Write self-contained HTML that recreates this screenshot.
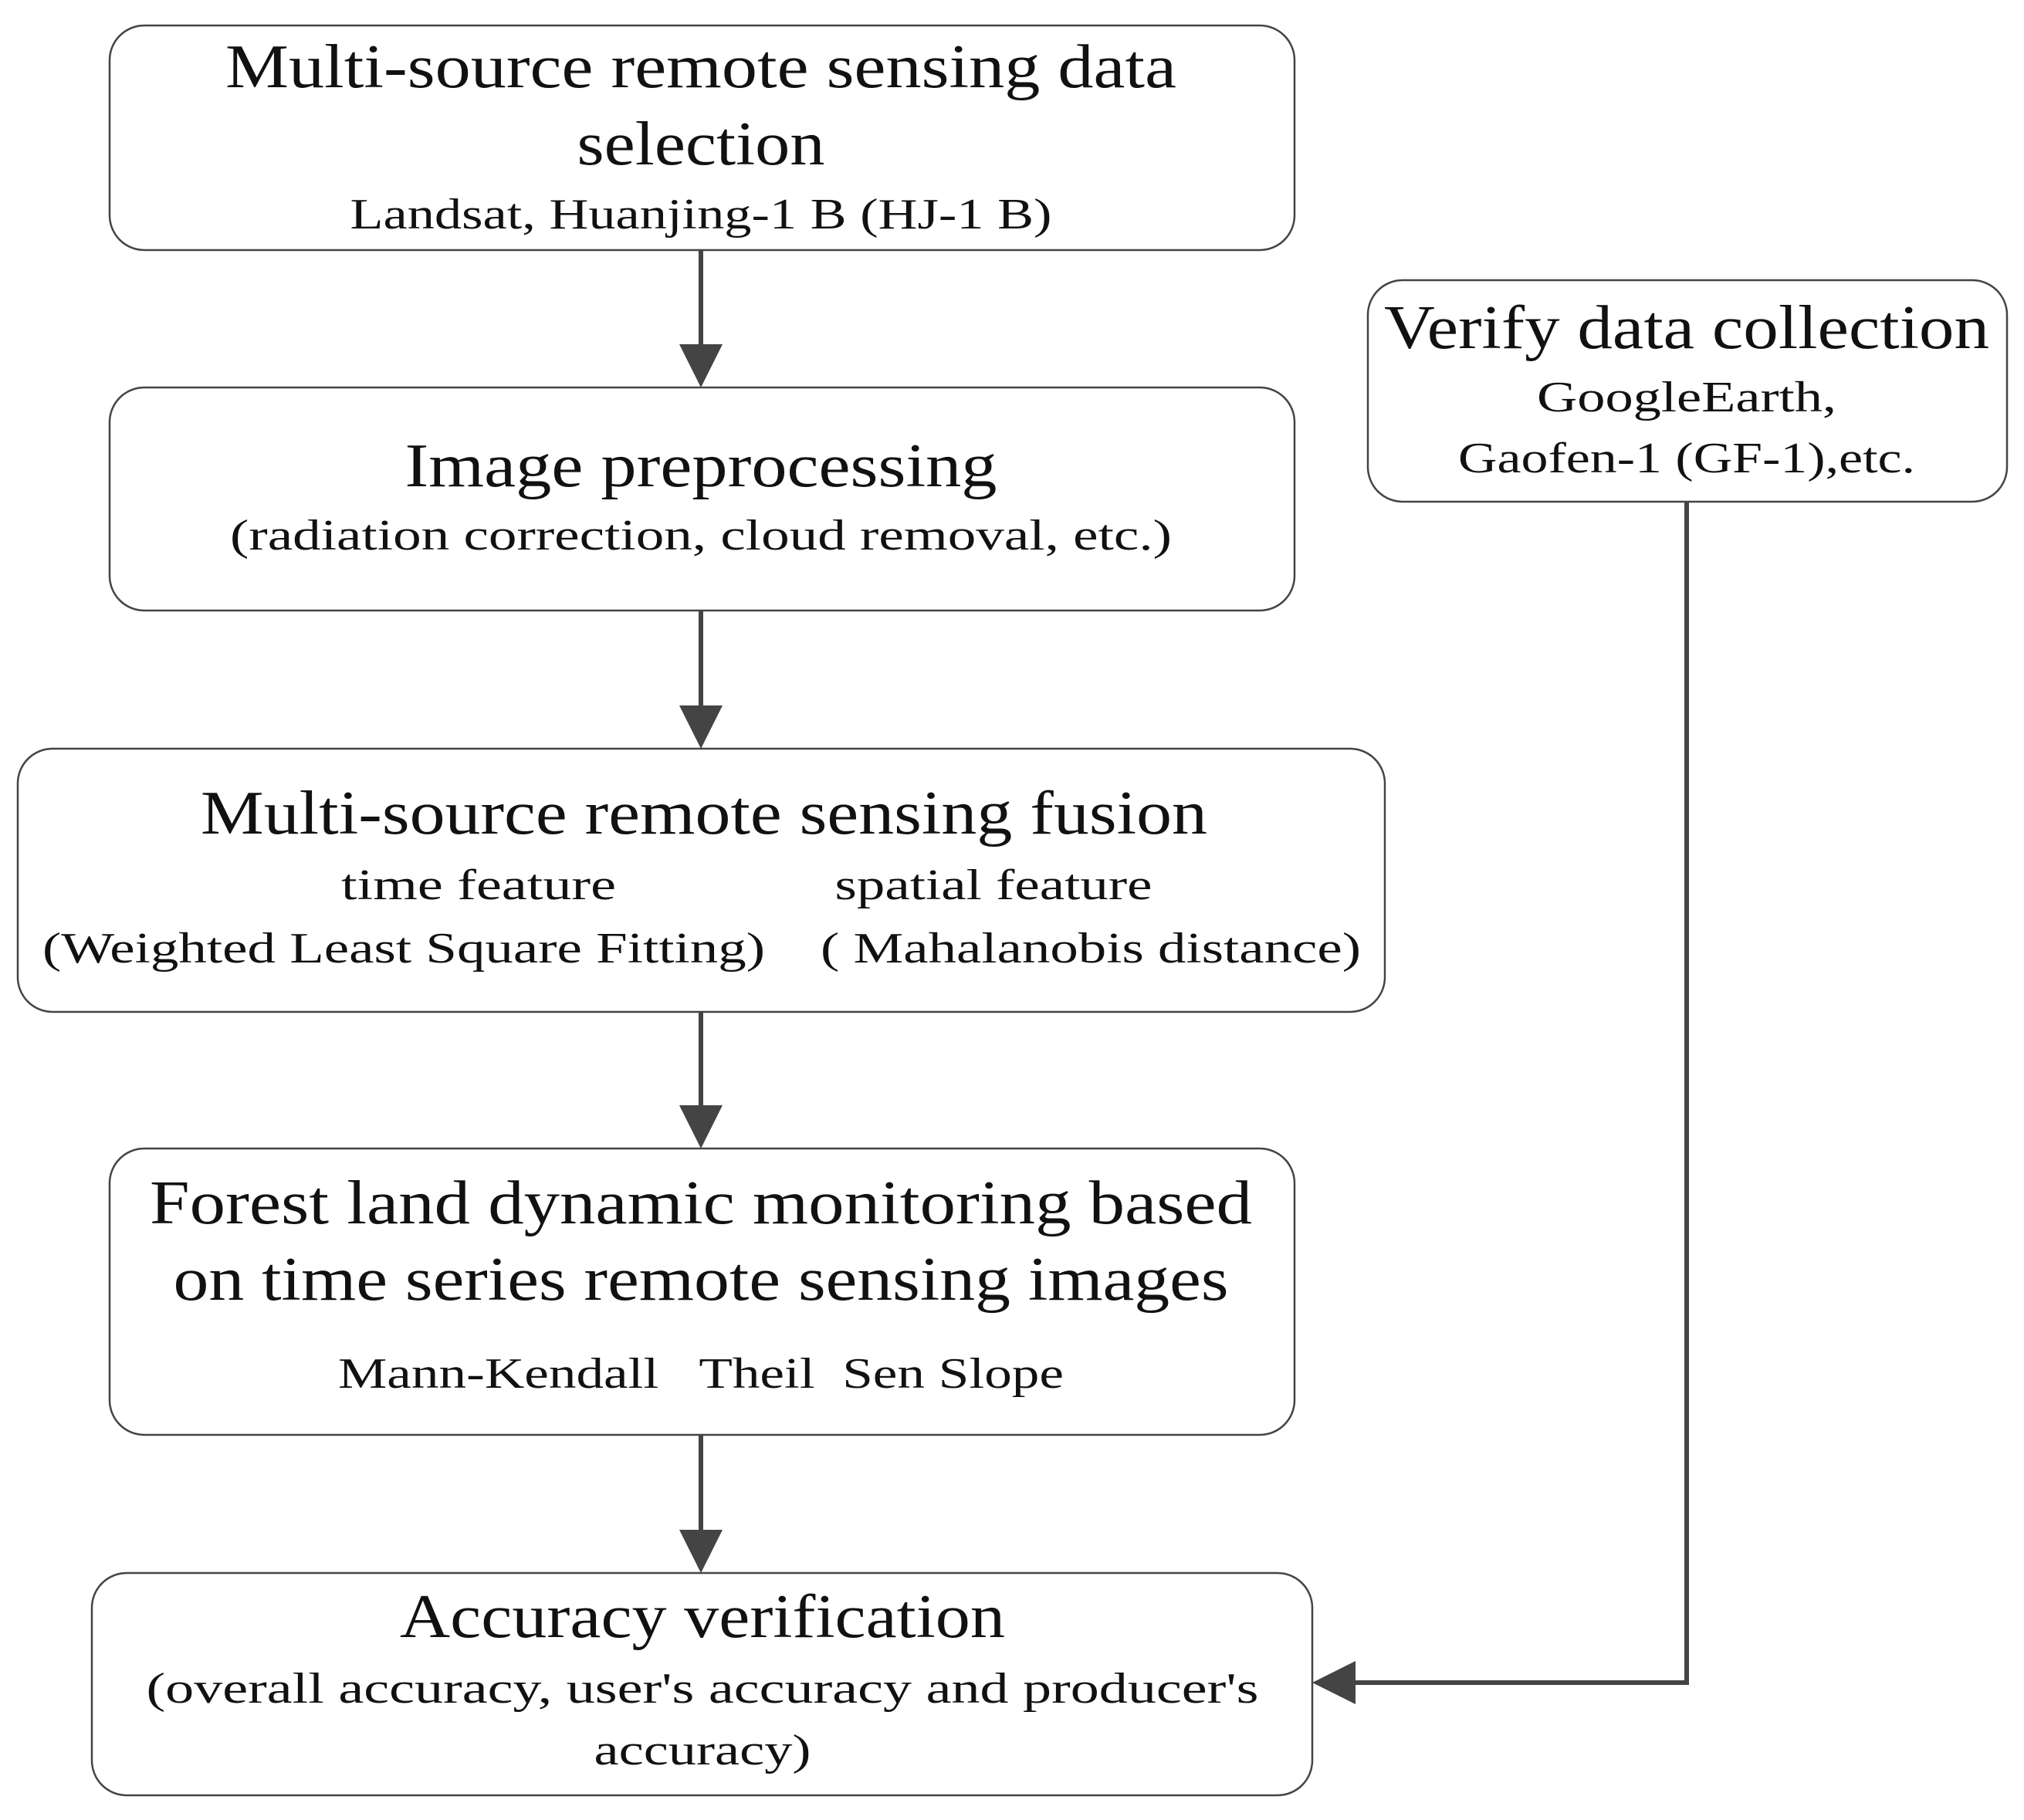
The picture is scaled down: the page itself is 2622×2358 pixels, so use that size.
<!DOCTYPE html>
<html><head><meta charset="utf-8"><style>
html,body{margin:0;padding:0;background:#fff;}
svg{display:block;}
text{font-family:"Liberation Serif",serif;fill:#111;}
.t{font-size:80px;}
.s{font-size:56px;}
</style></head><body>
<svg width="2622" height="2358" viewBox="0 0 2622 2358" xmlns="http://www.w3.org/2000/svg">
<defs>
<marker id="ah" markerWidth="10" markerHeight="10" refX="9" refY="5" orient="auto" markerUnits="userSpaceOnUse" viewBox="0 0 10 10">
</marker>
</defs>
<g fill="none" stroke="#444" stroke-width="2.5">
<rect x="142" y="33" width="1535" height="291" rx="45"/>
<rect x="142" y="502" width="1535" height="289" rx="45"/>
<rect x="23" y="970" width="1771" height="341" rx="45"/>
<rect x="142" y="1488" width="1535" height="371" rx="45"/>
<rect x="119" y="2038" width="1581" height="288" rx="45"/>
<rect x="1772" y="363" width="828" height="287" rx="45"/>
</g>
<g stroke="#444" stroke-width="6" fill="none">
<line x1="908" y1="324" x2="908" y2="460"/>
<line x1="908" y1="791" x2="908" y2="928"/>
<line x1="908" y1="1311" x2="908" y2="1446"/>
<line x1="908" y1="1859" x2="908" y2="1996"/>
<polyline points="2185,650 2185,2180 1745,2180"/>
</g>
<g fill="#444">
<polygon points="880,446 936,446 908,502"/>
<polygon points="880,914 936,914 908,970"/>
<polygon points="880,1432 936,1432 908,1488"/>
<polygon points="880,1982 936,1982 908,2038"/>
<polygon points="1756,2152 1756,2208 1700,2180"/>
</g>
<g text-anchor="middle" dominant-baseline="central">
<text class="t" x="908" y="87" textLength="1232" lengthAdjust="spacingAndGlyphs">Multi-source remote sensing data</text>
<text class="t" x="908" y="187" textLength="321" lengthAdjust="spacingAndGlyphs">selection</text>
<text class="s" x="908" y="278" textLength="909" lengthAdjust="spacingAndGlyphs">Landsat, Huanjing-1 B (HJ-1 B)</text>

<text class="t" x="908" y="604" textLength="767" lengthAdjust="spacingAndGlyphs">Image preprocessing</text>
<text class="s" x="908" y="694" textLength="1220" lengthAdjust="spacingAndGlyphs">(radiation correction, cloud removal, etc.)</text>

<text class="t" x="912" y="1054" textLength="1304" lengthAdjust="spacingAndGlyphs">Multi-source remote sensing fusion</text>
<text class="s" x="620" y="1147" textLength="356" lengthAdjust="spacingAndGlyphs">time feature</text>
<text class="s" x="1287" y="1147" textLength="411" lengthAdjust="spacingAndGlyphs">spatial feature</text>
<text class="s" x="523" y="1229" textLength="936" lengthAdjust="spacingAndGlyphs">(Weighted Least Square Fitting)</text>
<text class="s" x="1413" y="1229" textLength="700" lengthAdjust="spacingAndGlyphs">( Mahalanobis distance)</text>

<text class="t" x="908" y="1559" textLength="1428" lengthAdjust="spacingAndGlyphs">Forest land dynamic monitoring based</text>
<text class="t" x="908" y="1658" textLength="1367" lengthAdjust="spacingAndGlyphs">on time series remote sensing images</text>
<text class="s" x="908" y="1780" textLength="940" lengthAdjust="spacingAndGlyphs" xml:space="preserve">Mann-Kendall   Theil  Sen Slope</text>

<text class="t" x="910" y="2095" textLength="784" lengthAdjust="spacingAndGlyphs">Accuracy verification</text>
<text class="s" x="910" y="2188" textLength="1441" lengthAdjust="spacingAndGlyphs">(overall accuracy, user's accuracy and producer's</text>
<text class="s" x="910" y="2268" textLength="281" lengthAdjust="spacingAndGlyphs">accuracy)</text>

<text class="t" x="2185" y="425" textLength="784" lengthAdjust="spacingAndGlyphs">Verify data collection</text>
<text class="s" x="2185" y="515" textLength="388" lengthAdjust="spacingAndGlyphs">GoogleEarth,</text>
<text class="s" x="2185" y="594" textLength="592" lengthAdjust="spacingAndGlyphs">Gaofen-1 (GF-1),etc.</text>
</g>
</svg>
</body></html>
